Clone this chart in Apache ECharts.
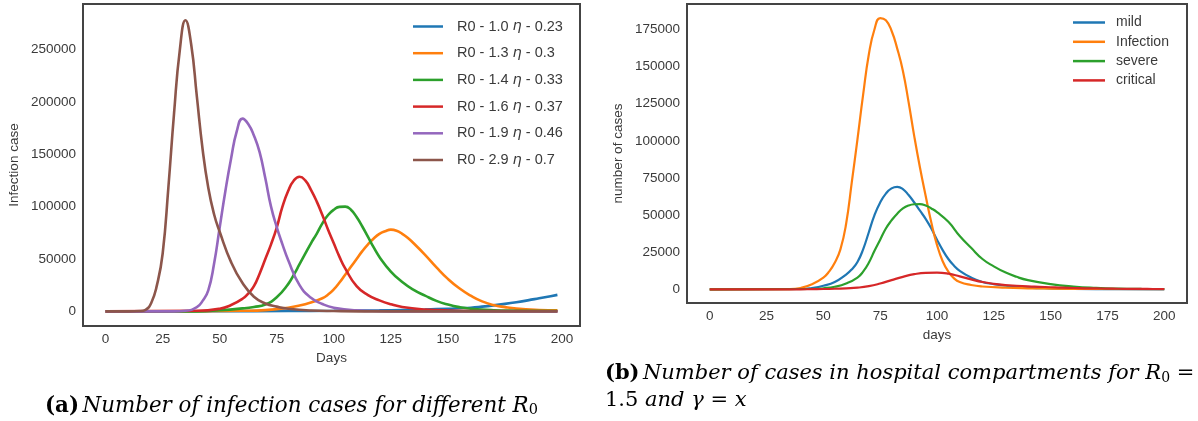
<!DOCTYPE html>
<html><head><meta charset="utf-8">
<script src="https://cdn.jsdelivr.net/npm/echarts@6/dist/echarts.min.js"></script>
<style>html,body{margin:0;padding:0;background:#fff}#c{width:1198px;height:421px}</style>
</head><body><div id="c"></div>
<script>
// ---------- data: panel (a) — infection cases per R0 ----------
const namesA = ['R0 - 1.0 η - 0.23','R0 - 1.3 η - 0.3','R0 - 1.4 η - 0.33','R0 - 1.6 η - 0.37','R0 - 1.9 η - 0.46','R0 - 2.9 η - 0.7'];

const days10 = [0,50,80,100,120,130,140,150,155,160,165,170,175,180,185,190,195,198];
const r0_10  = [0,100,300,500,900,1300,1800,2500,3000,3500,4500,5700,7100,8700,10500,12500,14500,15700];

const days13 = [0,40,60,70,80,85,90,95,97.5,100,102.5,105,107.5,110,112.5,115,117.5,120,122.5,125,127.5,130,132.5,135,140,145,150,155,160,165,170,175,180,190,198];
const r0_13  = [0,100,500,1200,3500,5500,8500,12500,16000,21000,27500,35000,42500,50000,57500,64000,69500,74000,76500,78000,77000,74000,70000,65000,54000,42000,31000,22000,15000,9500,6000,4000,2600,1300,900];

const days14 = [0,40,50,60,65,70,75,80,82.5,85,87.5,90,92.5,95,97.5,100,102.5,105,107.5,110,112.5,115,117.5,120,125,130,135,140,145,150,155,160,170,180,198];
const r0_14  = [0,0,1000,2800,4200,6500,13500,26000,35000,45000,55000,65000,74000,84000,92000,97000,99800,100000,97000,90000,81000,71000,61000,52000,38000,28000,20500,15000,10000,6500,4000,2500,1100,600,300];

const days16 = [0,40,50,55,60,62.5,65,67.5,70,72.5,75,77.5,80,82.5,85,87.5,90,92.5,95,97.5,100,102.5,105,110,115,120,125,130,140,150,170,198];
const r0_16  = [0,500,2500,6000,12000,17000,24000,36000,50000,64000,80000,100000,115000,125000,128500,125000,116000,105000,92000,78000,65000,52000,41000,24000,15500,10500,6800,4200,1800,800,200,100];

const days19 = [0,30,35,40,42.5,45,47.5,50,52.5,55,57.5,60,62.5,65,67.5,70,72.5,75,77.5,80,85,90,95,100,110,120,130,198];
const r0_19  = [0,0,500,4000,10000,20000,45000,80000,115000,146000,172000,184000,179000,168000,152000,127000,100000,80500,64000,49000,25000,13000,7000,3500,900,200,0,0];

const days29 = [0,10,15,17.5,20,22.5,25,27.5,30,32.5,35,37.5,40,42.5,45,47.5,50,55,60,65,70,75,80,90,100,120,198];
const r0_29  = [0,0,300,1500,8000,25000,55000,118000,189000,249000,278000,255000,205000,155000,118000,93000,76000,47000,27000,14000,7500,4500,2500,800,300,0,0];

const yTicksA = [0,50000,100000,150000,200000,250000];
const xTicks  = [0,25,50,75,100,125,150,175,200];

// ---------- data: panel (b) — hospital compartments ----------
const namesB = ['mild','Infection','severe','critical'];

const daysMild = [0,40,45,50,55,60,62.5,65,67.5,70,72.5,75,77.5,80,82.5,85,87.5,90,92.5,95,97.5,100,102.5,105,107.5,110,115,120,125,130,140,150,160,180,200];
const mild     = [0,300,1000,2500,5000,10000,13500,18500,27000,38500,50000,58500,64500,68000,69000,67500,63500,58500,53000,47500,41000,33500,26500,20500,16000,12500,8000,5000,3600,2500,1300,700,400,150,100];

const daysInf  = [0,35,40,45,50,52.5,55,57.5,60,62.5,65,67.5,70,72.5,75,77.5,80,82.5,85,87.5,90,92.5,95,97.5,100,102.5,105,107.5,110,115,120,130,140,150,170,200];
const infection= [0,200,1000,3500,8000,12000,18000,27000,44000,72000,101000,131000,158000,175000,182500,181000,174000,162000,147000,126000,103000,82000,63000,45000,30000,19000,12000,7500,5000,3000,2000,1200,800,600,300,200];

const daysSev  = [0,45,50,55,60,65,67.5,70,72.5,75,77.5,80,82.5,85,87.5,90,92.5,95,97.5,100,105,110,115,120,125,130,135,140,150,160,170,180,190,200];
const severe   = [0,300,800,1800,4000,8000,12000,18000,26000,33500,41000,46500,51000,54500,56500,57300,57400,56500,54500,52000,45500,36000,28000,20500,15500,11500,8500,6300,3600,2000,1100,600,400,300];

const daysCrit = [0,40,45,50,55,60,65,70,75,80,85,90,95,100,105,110,115,120,125,130,135,140,145,150,155,160,165,170,175,180,185,190,195,200];
const critical = [0,100,200,300,500,800,1200,2200,4000,6300,8500,10300,11200,11300,10600,8800,6800,5000,3800,3000,2500,2100,1800,1500,1200,1000,800,700,600,500,400,400,300,300];

const yTicksB = [0,25000,50000,75000,100000,125000,150000,175000];

const colors = ['#1f77b4','#ff7f0e','#2ca02c','#d62728','#9467bd','#8c564b'];
const seriesA = [[days10,r0_10],[days13,r0_13],[days14,r0_14],[days16,r0_16],[days19,r0_19],[days29,r0_29]];
const seriesB = [[daysMild,mild],[daysInf,infection],[daysSev,severe],[daysCrit,critical]];

const pair = (xs, ys) => xs.map((x, i) => [x, ys[i]]);
const tickFont = {fontFamily:'Liberation Sans, Arial, sans-serif', fontSize:13.5, color:'#3a3a3a'};

const series = [];
seriesA.forEach(([xs, ys], i) => series.push({
  name: namesA[i], type:'line', xAxisIndex:0, yAxisIndex:0, data: pair(xs, ys),
  showSymbol:false, smooth:0.5, lineStyle:{width:2.6, color:colors[i]}, itemStyle:{color:colors[i]}
}));
seriesB.forEach(([xs, ys], i) => series.push({
  name: namesB[i], type:'line', xAxisIndex:1, yAxisIndex:1, data: pair(xs, ys),
  showSymbol:false, smooth:0.5, lineStyle:{width:2.2, color:colors[i]}, itemStyle:{color:colors[i]}
}));

function xAxis(gi, min, max, name, gap) {
  return {type:'value', gridIndex:gi, min, max, name, nameLocation:'middle', nameGap:gap,
    nameTextStyle:tickFont, axisLine:{show:false}, axisTick:{show:false}, splitLine:{show:false},
    axisLabel:Object.assign({customValues:xTicks, margin:6, formatter:v => String(v)}, tickFont)};
}
function yAxis(gi, min, max, name, gap, ticks) {
  return {type:'value', gridIndex:gi, min, max, name, nameLocation:'middle', nameGap:gap, nameRotate:90,
    nameTextStyle:tickFont, axisLine:{show:false}, axisTick:{show:false}, splitLine:{show:false},
    axisLabel:Object.assign({customValues:ticks, margin:7, formatter:v => String(v)}, tickFont)};
}

const serif = 'DejaVu Serif, serif';
const chart = echarts.init(document.getElementById('c'), null, {renderer:'canvas'});
chart.setOption({
  backgroundColor:'#fff',
  animation:false,
  grid:[
    {left:83, top:4, width:497, height:322, show:true, borderColor:'#444', borderWidth:2, backgroundColor:'transparent'},
    {left:687, top:4, width:500, height:299, show:true, borderColor:'#444', borderWidth:2, backgroundColor:'transparent'}
  ],
  xAxis:[xAxis(0,-9.9,207.9,'Days',24), xAxis(1,-10,210,'days',22)],
  yAxis:[yAxis(0,-14000,293500,'Infection case',62,yTicksA), yAxis(1,-9100,192000,'number of cases',62,yTicksB)],
  legend:[
    {data:namesA, orient:'vertical', left:413, top:18.5, padding:0, icon:'rect', itemWidth:30, itemHeight:2.5, itemGap:10.7,
     formatter:n => n.replace('η','{i|η}'),
     textStyle:{fontFamily:'Liberation Sans, Arial, sans-serif', fontSize:14.5, color:'#3a3a3a', lineHeight:16, padding:[0,0,0,9],
       rich:{i:{fontFamily:'DejaVu Sans', fontStyle:'italic', fontSize:14.5, color:'#3a3a3a'}}}},
    {data:namesB, orient:'vertical', left:1073, top:15, padding:0, icon:'rect', itemWidth:32, itemHeight:2.5, itemGap:4.3,
     textStyle:{fontFamily:'Liberation Sans, Arial, sans-serif', fontSize:14, color:'#3a3a3a', lineHeight:15, padding:[0,0,0,6]}}
  ],
  graphic:[
    {type:'text', left:45, top:396, style:{
      text:'{b|(a)} {i|Number of infection cases for different }{i|R}{s|0}',
      rich:{
        b:{fontFamily:serif, fontWeight:'bold', fontSize:21.4, fill:'#000'},
        i:{fontFamily:serif, fontStyle:'italic', fontSize:21.4, fill:'#000'},
        s:{fontFamily:serif, fontSize:14.5, fill:'#000', padding:[8,0,0,0]}
      }}},
    {type:'text', left:605, top:360.5, style:{
      text:'{b|(b)} {i|Number of cases in hospital compartments for }{i|R}{s|0}{n| =}\n{n|1.5 }{i|and γ }{n|= }{i|x}',
      lineHeight:27,
      rich:{
        b:{fontFamily:serif, fontWeight:'bold', fontSize:21, fill:'#000', lineHeight:27},
        i:{fontFamily:serif, fontStyle:'italic', fontSize:21, fill:'#000', lineHeight:27},
        n:{fontFamily:serif, fontSize:21, fill:'#000', lineHeight:27},
        s:{fontFamily:serif, fontSize:14, fill:'#000', padding:[8,0,0,0], lineHeight:27}
      }}}
  ],
  series
});
</script></body></html>
